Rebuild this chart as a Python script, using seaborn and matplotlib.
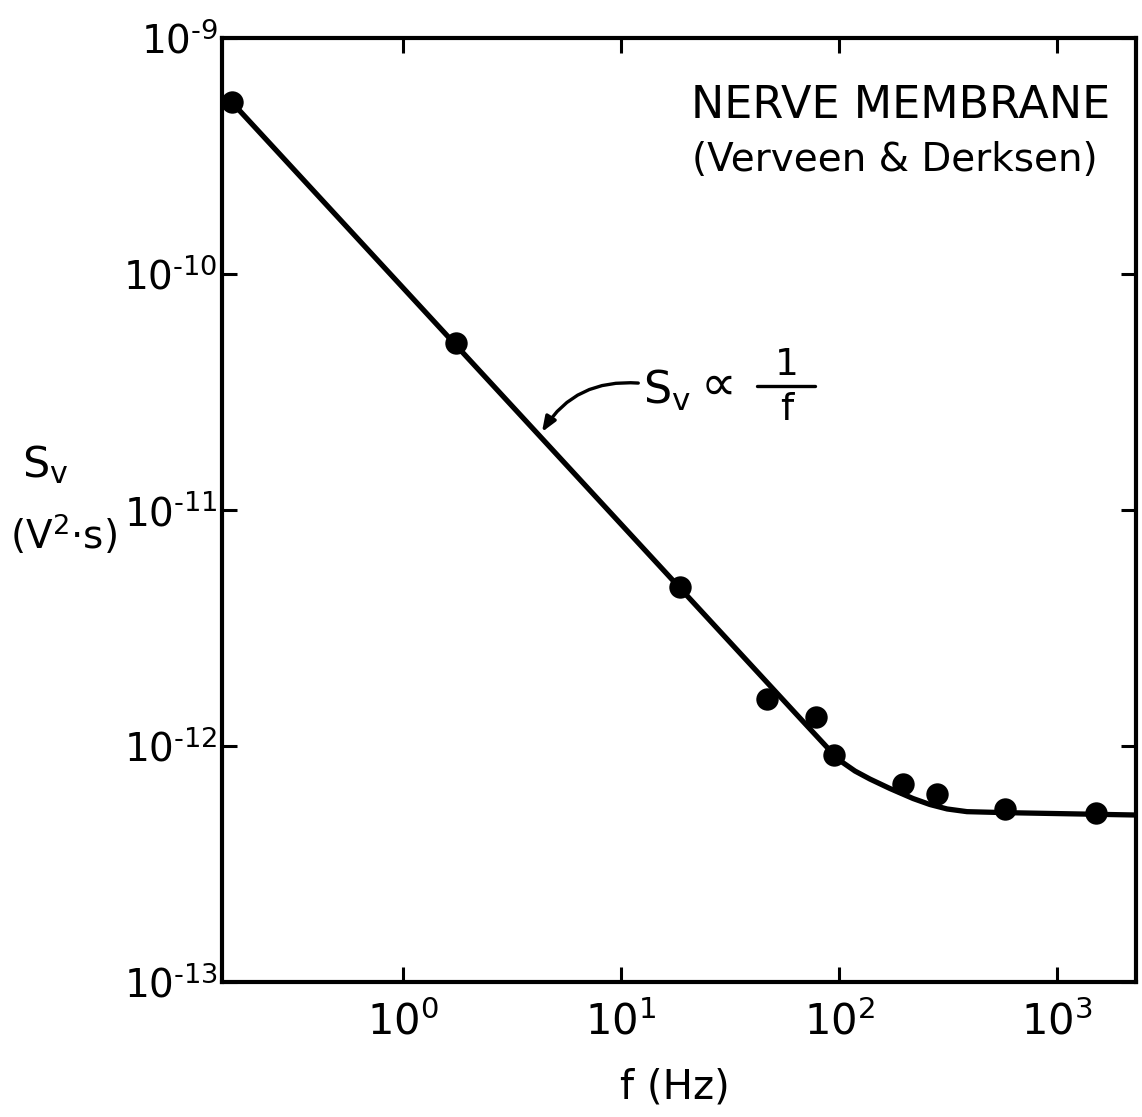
import matplotlib
matplotlib.use("Agg")
import matplotlib.pyplot as plt
from matplotlib.lines import Line2D
import seaborn as sns
import pandas as pd

# measured points
freq_pts = [0.164, 1.75, 18.7, 46.7, 78.4, 94.9, 197, 282, 577, 1510]
sv_pts = [5.35e-10, 5.1e-11, 4.72e-12, 1.58e-12, 1.33e-12, 9.2e-13, 6.9e-13, 6.26e-13, 5.41e-13, 5.2e-13]

# fitted curve
freq_line = [0.164, 68.4, 90.9, 103.2, 118.4, 138.7, 171.4, 218.5, 261, 313, 386, 577, 2300]
sv_line = [5.35e-10, 1.27e-12, 9.57e-13, 8.55e-13, 7.83e-13, 7.24e-13, 6.60e-13,
           5.99e-13, 5.65e-13, 5.41e-13, 5.27e-13, 5.22e-13, 5.10e-13]

xticks = [1, 10, 100, 1000]
xticklabels = [r"$10^{0}$", r"$10^{1}$", r"$10^{2}$", r"$10^{3}$"]
yticks = [1e-13, 1e-12, 1e-11, 1e-10, 1e-9]
yticklabels = [r"$10^{‐13}$", r"$10^{‐12}$", r"$10^{‐11}$", r"$10^{‐10}$", r"$10^{‐9}$"]

sns.set_style("ticks")
plt.rcParams["font.family"] = ["DejaVu Sans"]
plt.rcParams["mathtext.fontset"] = "dejavusans"
for k in ["text.color", "axes.edgecolor", "xtick.color", "ytick.color", "axes.labelcolor"]:
    plt.rcParams[k] = "black"

W, H = 1142, 1117
fig = plt.figure(figsize=(W / 100, H / 100), dpi=100)
ax = fig.add_axes([222 / W, (H - 982) / H, (1136 - 222) / W, (982 - 38) / H])

df_line = pd.DataFrame({"f": freq_line, "S": sv_line})
df_pts = pd.DataFrame({"f": freq_pts, "S": sv_pts})

sns.lineplot(data=df_line, x="f", y="S", ax=ax, color="black", linewidth=3.8,
             sort=False, estimator=None)
sns.scatterplot(data=df_pts, x="f", y="S", ax=ax, color="black", s=260,
                edgecolor="black", linewidth=0, zorder=5, clip_on=False)

ax.set_xscale("log")
ax.set_yscale("log")
ax.set_xlim(0.148, 2300)
ax.set_ylim(1e-13, 1e-9)

ax.set_xticks(xticks)
ax.set_xticklabels(xticklabels)
ax.set_yticks(yticks)
ax.set_yticklabels(yticklabels)
ax.minorticks_off()
ax.tick_params(which="major", direction="in", length=11, width=2.2,
               top=True, right=True, pad=3)
ax.tick_params(axis="y", labelsize=28)
ax.tick_params(axis="x", pad=14, labelsize=30)
for sp in ax.spines.values():
    sp.set_linewidth(3)
    sp.set_color("black")
    sp.set_visible(True)
ax.set_xlabel("")
ax.set_ylabel("")

# titles
fig.text(901 / W, 1 - 105 / H, "NERVE MEMBRANE", fontsize=32, ha="center", va="center")
fig.text(895 / W, 1 - 160 / H, "(Verveen & Derksen)", fontsize=28, ha="center", va="center")

# S_v ∝ 1/f annotation
fig.text(643 / W, 1 - 390 / H, r"$\mathregular{S_v}$", fontsize=32, ha="left", va="center")
fig.text(718 / W, 1 - 386 / H, "∝", fontsize=36, ha="center", va="center")
fig.text(787 / W, 1 - 365 / H, "1", fontsize=27, ha="center", va="center")
fig.text(787 / W, 1 - 410 / H, "f", fontsize=27, ha="center", va="center")
fig.add_artist(Line2D([757 / W, 815 / W], [1 - 386 / H, 1 - 386 / H], color="black",
                      lw=2.4, transform=fig.transFigure))
ax.annotate("", xy=(4.34, 2.14e-11), xytext=(12.0, 3.45e-11),
            arrowprops=dict(arrowstyle="-|>,head_length=0.9,head_width=0.35", color="black",
                            lw=2.4, connectionstyle="arc3,rad=0.3", shrinkA=0, shrinkB=0))

# axis labels
fig.text(45 / W, 1 - 465 / H, r"$\mathregular{S_v}$", fontsize=31, ha="center", va="center")
fig.text(63 / W, 1 - 535 / H, r"(V$^2$·s)", fontsize=28, ha="center", va="center")
fig.text(675 / W, 1 - 1088 / H, "f (Hz)", fontsize=29, ha="center", va="center")

fig.savefig("out.png", dpi=100, facecolor="white")
